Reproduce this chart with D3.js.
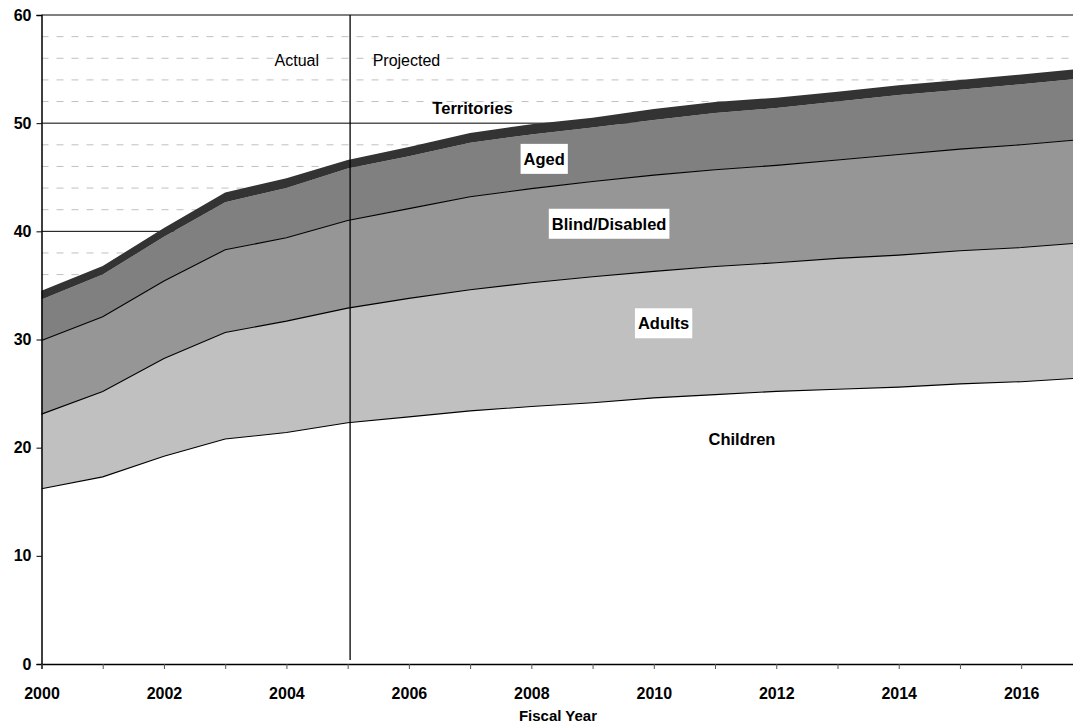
<!DOCTYPE html>
<html>
<head>
<meta charset="utf-8">
<script src="https://cdn.jsdelivr.net/npm/d3@7"></script>
<style>
    html, body { margin: 0; padding: 0; background: #fff; }
    svg { display: block; font-family: "Liberation Sans", Arial, sans-serif; }
</style>
</head>
<body>
<div id="chart"></div>
<script>
// ── Datos ─────────────────────────────────────────────
const years       = d3.range(2000, 2018);
const seriesNames = ['Children', 'Adults', 'Blind/Disabled', 'Aged', 'Territories'];
const children    = [16.2, 17.3, 19.2, 20.8, 21.4, 22.3, 22.85, 23.4, 23.8, 24.15, 24.6, 24.9, 25.2, 25.4, 25.6, 25.9, 26.1, 26.45];
const adults      = [6.9, 7.9, 9.05, 9.85, 10.3, 10.6, 10.95, 11.2, 11.45, 11.65, 11.7, 11.85, 11.9, 12.1, 12.2, 12.3, 12.4, 12.5];
const blind       = [6.8, 6.9, 7.15, 7.65, 7.7, 8.1, 8.3, 8.6, 8.7, 8.8, 8.9, 8.95, 9.0, 9.1, 9.3, 9.4, 9.5, 9.55];
const aged        = [3.8, 3.9, 4.1, 4.4, 4.6, 4.8, 4.85, 5.0, 5.0, 5.0, 5.1, 5.25, 5.3, 5.4, 5.5, 5.5, 5.6, 5.65];
const territories = [0.8, 0.8, 0.8, 0.9, 0.9, 0.8, 0.85, 0.9, 0.95, 0.9, 1.0, 1.0, 0.95, 0.9, 0.9, 0.9, 0.9, 0.9];
const yTicks      = [0, 10, 20, 30, 40, 50, 60];
const xLabelYears = d3.range(2000, 2017, 2);
const splitYear   = 2005.04;

const fills   = ['#ffffff', '#c0c0c0', '#969696', '#808080', '#333333'];
const outline = [true, true, true, false, false];

// tabla para d3.stack
const values = [children, adults, blind, aged, territories];
const table = years.map((yr, i) => {
    const row = { year: yr };
    seriesNames.forEach((n, k) => { row[n] = values[k][i]; });
    return row;
});

const W = 1073, H = 728;
const x = d3.scaleLinear().domain([2000, 2017]).range([41.5, 41.5 + 17 * 61.23]);
const y = d3.scaleLinear().domain([0, 60]).range([664, 15]);

const svg = d3.select('#chart').append('svg').attr('width', W).attr('height', H);

// ── Rejilla ───────────────────────────────────────────
const minor = d3.range(2, 60, 2).filter(v => v % 10 !== 0);
svg.append('g').selectAll('line').data(minor).join('line')
    .attr('x1', x(2000)).attr('x2', W)
    .attr('y1', d => y(d)).attr('y2', d => y(d))
    .attr('stroke', '#c0c0c0').attr('stroke-width', 1)
    .attr('stroke-dasharray', '7,8');

svg.append('g').selectAll('line').data(yTicks.filter(v => v > 0 && v < 60)).join('line')
    .attr('x1', x(2000)).attr('x2', W)
    .attr('y1', d => y(d)).attr('y2', d => y(d))
    .attr('stroke', '#000').attr('stroke-width', 1);

// ── Áreas apiladas ────────────────────────────────────
const stacked = d3.stack().keys(seriesNames)(table);
const area = d3.area()
    .x(d => x(d.data.year)).y0(d => y(d[0])).y1(d => y(d[1]));
const topLine = d3.line().x(d => x(d.data.year)).y(d => y(d[1]));

svg.append('g').selectAll('path').data(stacked).join('path')
    .attr('d', area)
    .attr('fill', (d, i) => fills[i]);

svg.append('g').selectAll('path').data(stacked.filter((d, i) => outline[i])).join('path')
    .attr('d', topLine)
    .attr('fill', 'none').attr('stroke', '#000').attr('stroke-width', 1.1);

// borde superior del área de trazado
svg.append('line')
    .attr('x1', x(2000)).attr('x2', W)
    .attr('y1', y(60)).attr('y2', y(60))
    .attr('stroke', '#808080').attr('stroke-width', 2);

// línea Actual / Projected
svg.append('line')
    .attr('x1', x(splitYear)).attr('x2', x(splitYear))
    .attr('y1', y(60)).attr('y2', y(0) - 4)
    .attr('stroke', '#000').attr('stroke-width', 1.3);

// ── Ejes ──────────────────────────────────────────────
const yAxis = svg.append('g').attr('transform', `translate(${x(2000)},0)`)
    .call(d3.axisLeft(y).tickValues(yTicks).tickSize(5).tickPadding(5));
yAxis.select('.domain').attr('stroke', '#000').attr('stroke-width', 1.5);
yAxis.selectAll('.tick line').attr('stroke', '#000');
yAxis.selectAll('text')
    .style('font-family', '"Liberation Sans", Arial, sans-serif')
    .style('font-size', '16px').style('font-weight', 'bold').attr('fill', '#000');

const xAxis = svg.append('g').attr('transform', `translate(0,${y(0)})`)
    .call(d3.axisBottom(x).tickValues(years.filter(yr => x(yr) <= W)).tickSize(5)
        .tickFormat(d => xLabelYears.includes(d) ? d : ''));
xAxis.select('.domain').attr('stroke', '#000').attr('stroke-width', 1.5);
xAxis.selectAll('.tick line').attr('stroke', '#555');
xAxis.selectAll('text')
    .attr('y', 24)
    .style('font-family', '"Liberation Sans", Arial, sans-serif')
    .style('font-size', '16px').style('font-weight', 'bold').attr('fill', '#000');

svg.append('text')
    .attr('x', (x(2000) + x(2017)) / 2 - 4).attr('y', 721)
    .attr('text-anchor', 'middle')
    .style('font-size', '15px').style('font-weight', 'bold')
    .text('Fiscal Year');

// ── Etiquetas ─────────────────────────────────────────
const notes = [
    { text: 'Actual',    year: 2004.17, value: 55.25, bold: false },
    { text: 'Projected', year: 2005.96, value: 55.25, bold: false }
];
notes.forEach(n => {
    svg.append('text')
        .attr('x', x(n.year)).attr('y', y(n.value))
        .attr('text-anchor', 'middle')
        .style('font-size', '16px')
        .text(n.text);
});

const labels = [
    { text: 'Territories',    year: 2007.04, value: 51.4, box: false },
    { text: 'Aged',           year: 2008.21, value: 46.7, box: true },
    { text: 'Blind/Disabled', year: 2009.27, value: 40.7, box: true },
    { text: 'Adults',         year: 2010.16, value: 31.5, box: true },
    { text: 'Children',       year: 2011.44, value: 20.8, box: false }
];
labels.forEach(l => {
    const g = svg.append('g');
    const t = g.append('text')
        .attr('x', x(l.year)).attr('y', y(l.value))
        .attr('text-anchor', 'middle').attr('dominant-baseline', 'central')
        .style('font-size', '16.5px').style('font-weight', 'bold')
        .text(l.text);
    if (l.box) {
        const bb = t.node().getBBox();
        g.insert('rect', 'text')
            .attr('x', bb.x - 3).attr('y', y(l.value) - 15)
            .attr('width', bb.width + 6).attr('height', 30)
            .attr('fill', '#fff');
    }
});
</script>
</body>
</html>
